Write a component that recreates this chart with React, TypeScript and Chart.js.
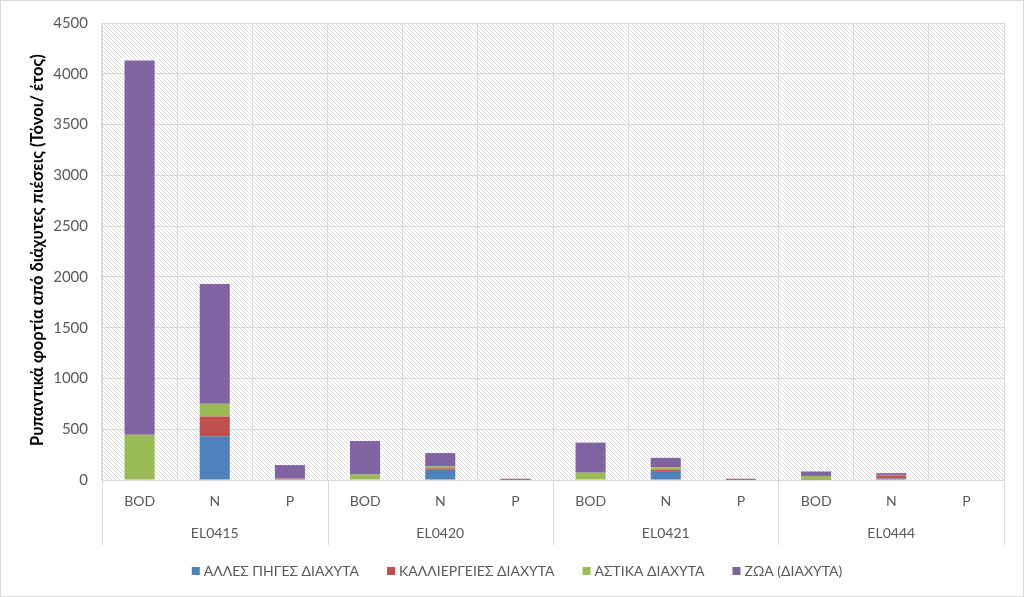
import React, { useEffect, useRef } from "react";
import { Chart, registerables } from "chart.js";

Chart.register(...registerables);

const groups = ["EL0415", "EL0420", "EL0421", "EL0444"];
const pollutants = ["BOD", "N", "P"];
const categories = groups.flatMap((g) => pollutants.map((p) => p));

const seriesNames = ["ΆΛΛΕΣ ΠΗΓΕΣ ΔΙΑΧΥΤΑ", "ΚΑΛΛΙΕΡΓΕΙΕΣ ΔΙΑΧΥΤΑ", "ΑΣΤΙΚΑ ΔΙΑΧΥΤΑ", "ΖΩΑ (ΔΙΑΧΥΤΑ)"];
const otherSources = [0, 430, 0, 0, 100, 0, 0, 88, 0, 0, 15, 0];
const cultivation = [0, 195, 12, 0, 15, 1, 0, 10, 1, 2, 30, 0];
const urban = [445, 125, 2, 55, 18, 1, 72, 29, 1, 38, 5, 0];
const livestock = [3685, 1180, 133, 330, 132, 10, 296, 91, 10, 44, 18, 0];
const seriesColors = ["#4F81BD", "#C0504D", "#9BBB59", "#8064A2"];
const yTicks = [0, 500, 1000, 1500, 2000, 2500, 3000, 3500, 4000, 4500];
const yTitle = "Ρυπαντικά φορτία από διάχυτες πιέσεις (Τόνοι/ έτος)";

const FONT = "Lato, 'Open Sans', sans-serif";
const GREY = "#595959";
const LINE = "#d9d9d9";

export default function App() {
  const ref = useRef<HTMLCanvasElement | null>(null);

  useEffect(() => {
    const canvas = ref.current;
    if (!canvas) return;

    const tile = document.createElement("canvas");
    tile.width = 4;
    tile.height = 4;
    const tctx = tile.getContext("2d")!;
    tctx.fillStyle = "#ffffff";
    tctx.fillRect(0, 0, 4, 4);
    tctx.strokeStyle = "#dadada";
    tctx.lineWidth = 1;
    tctx.beginPath();
    tctx.moveTo(-1, -1);
    tctx.lineTo(5, 5);
    tctx.moveTo(-1, 3);
    tctx.lineTo(1, 5);
    tctx.moveTo(3, -1);
    tctx.lineTo(5, 1);
    tctx.stroke();

    const decor = {
      id: "decor",
      beforeDraw(chart: any) {
        const { ctx, chartArea } = chart;
        ctx.save();
        ctx.fillStyle = "#ffffff";
        ctx.fillRect(0, 0, chart.width, chart.height);
        const pat = ctx.createPattern(tile, "repeat");
        ctx.fillStyle = pat;
        ctx.fillRect(chartArea.left, chartArea.top, chartArea.right - chartArea.left, chartArea.bottom - chartArea.top);
        ctx.restore();
      },
      afterDraw(chart: any) {
        const { ctx, chartArea, scales } = chart;
        const x = scales.x;
        ctx.save();
        ctx.strokeStyle = LINE;
        ctx.lineWidth = 1;
        ctx.strokeRect(0.5, 0.5, chart.width - 1, chart.height - 1);
        const step = x.getPixelForValue(1) - x.getPixelForValue(0);
        ctx.beginPath();
        for (let g = 0; g <= groups.length; g++) {
          const px = Math.round(x.getPixelForValue(g * 3) - step / 2) + 0.5;
          ctx.moveTo(px, chartArea.bottom);
          ctx.lineTo(px, 545);
        }
        ctx.stroke();
        ctx.fillStyle = GREY;
        ctx.font = `14px ${FONT}`;
        ctx.textAlign = "center";
        ctx.textBaseline = "middle";
        groups.forEach((g, i) => {
          ctx.fillText(g, x.getPixelForValue(i * 3 + 1), 533);
        });
        ctx.save();
        ctx.translate(38, 250);
        ctx.rotate(-Math.PI / 2);
        ctx.fillStyle = "#000000";
        ctx.font = `bold 16.5px ${FONT}`;
        ctx.fillText(yTitle, 0, 0);
        ctx.restore();
        ctx.font = `14px ${FONT}`;
        ctx.textAlign = "left";
        const box = 8;
        const gapBox = 4;
        const gapItem = 28;
        const ds = chart.data.datasets;
        const widths = ds.map((d: any) => box + gapBox + ctx.measureText(d.label).width);
        const total = widths.reduce((a: number, b: number) => a + b, 0) + gapItem * (ds.length - 1);
        let lx = 517 - total / 2;
        const ly = 571;
        ds.forEach((d: any, i: number) => {
          ctx.fillStyle = d.backgroundColor;
          ctx.fillRect(lx, ly - box / 2, box, box);
          ctx.fillStyle = GREY;
          ctx.fillText(d.label, lx + box + gapBox, ly);
          lx += widths[i] + gapItem;
        });
        ctx.restore();
      },
    };

    const data = [otherSources, cultivation, urban, livestock];

    const chart = new Chart(canvas, {
      type: "bar",
      data: {
        labels: categories,
        datasets: seriesNames.map((name, i) => ({
          label: name,
          data: data[i],
          backgroundColor: seriesColors[i],
          borderWidth: 0,
          barPercentage: 0.4,
          categoryPercentage: 1,
        })),
      },
      options: {
        responsive: false,
        animation: false,
        layout: { padding: { top: 21, right: 20, left: 0, bottom: 0 } },
        plugins: { legend: { display: false }, tooltip: { enabled: false } },
        scales: {
          x: {
            stacked: true,
            grid: { color: LINE, drawTicks: false, offset: true },
            border: { color: LINE },
            ticks: { color: GREY, font: { family: FONT, size: 14 }, padding: 13, maxRotation: 0 },
            afterFit(scale: any) {
              scale.height = 117;
            },
          },
          y: {
            stacked: true,
            min: 0,
            max: 4500,
            grid: { color: LINE, drawTicks: false },
            border: { color: LINE },
            afterBuildTicks(scale: any) {
              scale.ticks = yTicks.map((v) => ({ value: v }));
            },
            ticks: {
              color: GREY,
              font: { family: FONT, size: 15 },
              padding: 14,
              callback: (v: any) => String(v),
            },
            afterFit(scale: any) {
              scale.width = 102;
            },
          },
        },
      },
      plugins: [decor],
    });
    return () => chart.destroy();
  }, []);

  return (
    <div style={{ position: "fixed", left: 0, top: 0, width: 1024, height: 597 }}>
      <canvas ref={ref} width={1024} height={597} style={{ display: "block" }} />
    </div>
  );
}
